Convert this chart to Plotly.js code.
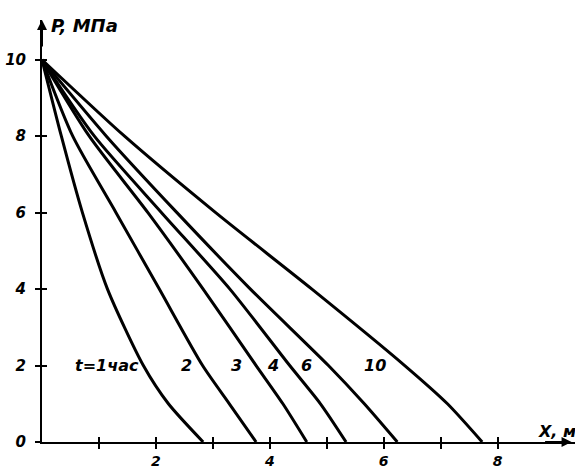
<!DOCTYPE html>
<html>
<head>
<meta charset="utf-8">
<script src="https://cdn.plot.ly/plotly-3.0.1.min.js"></script>
<style>html,body{margin:0;padding:0;background:#fff;}#chart{width:575px;height:468px;}</style>
</head>
<body>
<div id="chart"></div>
<script>
// Pressure levels (MPa) at which the curves were read
const pLevels = [10, 8, 6, 4, 2, 1, 0];
// Distance X (m) of each curve at those pressure levels
const xT1  = [0, 0.34, 0.71, 1.15, 1.78, 2.22, 2.83];
const xT2  = [0, 0.54, 1.30, 2.06, 2.82, 3.29, 3.76];
const xT3  = [0, 0.83, 1.86, 2.83, 3.76, 4.23, 4.65];
const xT4  = [0, 0.92, 2.10, 3.30, 4.35, 4.89, 5.34];
const xT6  = [0, 1.13, 2.37, 3.66, 5.03, 5.66, 6.24];
const xT10 = [0, 1.45, 3.05, 4.74, 6.37, 7.12, 7.73];
const curves = [xT1, xT2, xT3, xT4, xT6, xT10];

// Curve labels
const labelTexts = ["t=1час", "2", "3", "4", "6", "10"];
const labelX = [1.14, 2.53, 3.41, 4.05, 4.64, 5.84];
const labelY = [2.0, 2.0, 2.0, 2.0, 2.0, 2.0];

// Ticks
const xTickVals = [1, 2, 3, 4, 5, 6, 7, 8];
const xTickText = ["", "2", "", "4", "", "6", "", "8"];
const yTickVals = [0, 2, 4, 6, 8, 10];
const yTickText = ["0", "2", "4", "6", "8", "10"];

const FONT = "DejaVu Sans";
const hand = (size) => ({family: FONT, size: size, color: "#000", style: "italic", weight: "bold"});

const traces = curves.map((xs) => ({
  type: "scatter", mode: "lines",
  x: xs, y: pLevels,
  line: {color: "#000", width: 3, shape: "spline", smoothing: 0.7},
  hoverinfo: "skip", showlegend: false
}));
traces.push({type: "scatter", mode: "lines", x: [null], y: [null], xaxis: "x2", yaxis: "y2", showlegend: false, hoverinfo: "skip"});

const annotations = labelTexts.map((t, i) => ({
  x: labelX[i], y: labelY[i], xref: "x", yref: "y", text: t, showarrow: false,
  font: hand(16), xanchor: "center", yanchor: "middle"
}));
annotations.push({x: 0.13, y: 10.9, xref: "x", yref: "y", text: "P, МПа", showarrow: false,
  font: hand(18), xanchor: "left", yanchor: "middle"});
annotations.push({x: 8.68, y: 0.27, xref: "x", yref: "y", text: "X, м", showarrow: false,
  font: hand(16), xanchor: "left", yanchor: "middle"});
// axis arrows
annotations.push({x: 0, y: 11.04, xref: "x", yref: "y", ax: 0, ay: 28, text: "", showarrow: true,
  arrowhead: 2, arrowsize: 1, arrowwidth: 2, arrowcolor: "#000"});
annotations.push({x: 9.3, y: 0, xref: "x", yref: "y", ax: -28, ay: 0, text: "", showarrow: true,
  arrowhead: 2, arrowsize: 1, arrowwidth: 2, arrowcolor: "#000"});

const layout = {
  width: 575, height: 468,
  margin: {l: 42, r: 0, t: 20, b: 26},
  paper_bgcolor: "#fff", plot_bgcolor: "#fff",
  showlegend: false,
  xaxis: {range: [0, 9.36], showgrid: false, zeroline: false, showline: true, linewidth: 2, linecolor: "#000",
    ticks: "outside", ticklen: 5, tickwidth: 2, tickcolor: "#000",
    tickmode: "array", tickvals: xTickVals, ticktext: xTickText, tickfont: hand(14), ticklabelstandoff: 0},
  xaxis2: {overlaying: "x", matches: "x", anchor: "y", side: "bottom", showgrid: false, zeroline: false, showline: false,
    ticks: "inside", ticklen: 5, tickwidth: 2, tickcolor: "#000",
    tickmode: "array", tickvals: xTickVals, showticklabels: false},
  yaxis: {range: [0, 11.04], showgrid: false, zeroline: false, showline: true, linewidth: 2, linecolor: "#000",
    ticks: "outside", ticklen: 5, tickwidth: 2, tickcolor: "#000",
    tickmode: "array", tickvals: yTickVals, ticktext: yTickText, tickfont: hand(15), ticklabelstandoff: 6},
  yaxis2: {overlaying: "y", matches: "y", anchor: "x", side: "left", showgrid: false, zeroline: false, showline: false,
    ticks: "inside", ticklen: 5, tickwidth: 2, tickcolor: "#000",
    tickmode: "array", tickvals: [2, 4, 6, 8, 10], showticklabels: false},
  annotations: annotations
};

Plotly.newPlot("chart", traces, layout, {staticPlot: true, displayModeBar: false});
</script>
</body>
</html>
